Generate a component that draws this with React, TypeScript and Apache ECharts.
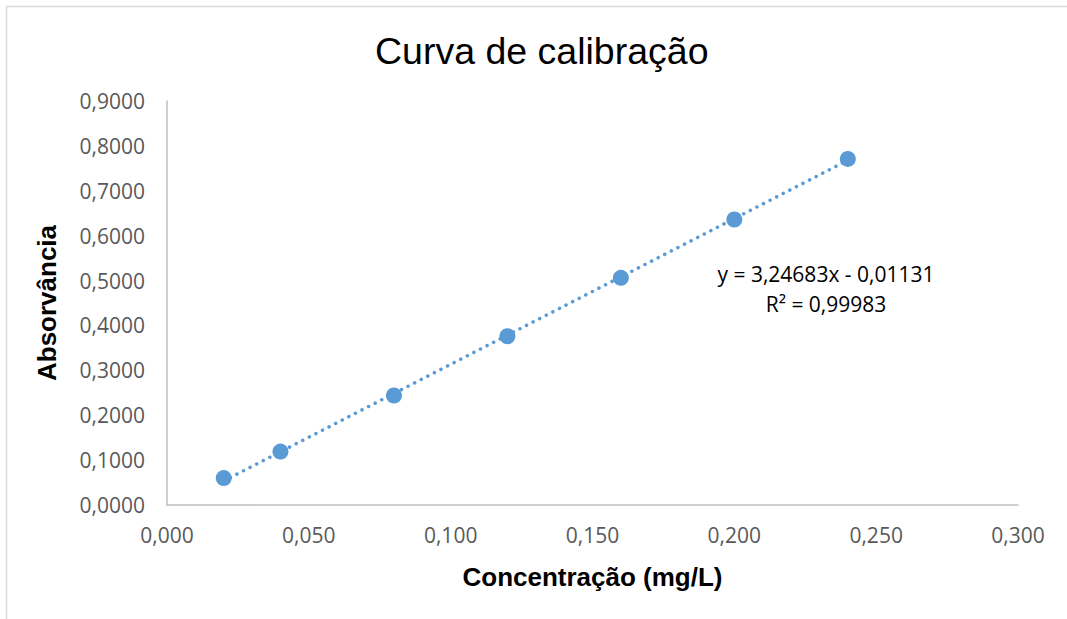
import React, { useEffect, useRef } from "react";
import * as echarts from "echarts";

const concentrations = [0.02, 0.04, 0.08, 0.12, 0.16, 0.2, 0.24];
const absorbances = [0.06, 0.119, 0.244, 0.376, 0.506, 0.636, 0.771];
const trendX = [0.02, 0.24];
const trendY = [0.0536, 0.7679];
const equationText = "y = 3,24683x - 0,01131";
const r2Text = "R² = 0,99983";

const BLUE = "#5b9bd5";
const LABEL_FONT = "'Open Sans', 'Noto Sans', sans-serif";

export default function App() {
  const ref = useRef<HTMLDivElement>(null);
  useEffect(() => {
    if (!ref.current) return;
    const chart = echarts.init(ref.current, undefined, { renderer: "svg" });
    chart.setOption({
      animation: false,
      backgroundColor: "#ffffff",
      title: {
        text: "Curva de calibração",
        left: 370,
        top: 27,
        textStyle: {
          fontFamily: "'Liberation Sans', Arial, sans-serif",
          fontSize: 37.5,
          fontWeight: "normal",
          color: "#000000",
        },
      },
      grid: { left: 167, right: 49, top: 101, bottom: 114 },
      xAxis: {
        type: "value",
        min: 0,
        max: 0.3,
        interval: 0.05,
        name: "Concentração (mg/L)",
        nameLocation: "middle",
        nameGap: 59,
        nameTextStyle: {
          fontFamily: "'Liberation Sans', Arial, sans-serif",
          fontSize: 26,
          fontWeight: "bold",
          color: "#000000",
        },
        axisLine: { show: true, lineStyle: { color: "#bfbfbf", width: 1.5 } },
        axisTick: { show: false },
        splitLine: { show: false },
        axisLabel: {
          margin: 19,
          fontFamily: LABEL_FONT,
          fontSize: 21,
          color: "#595959",
          formatter: (v: number) => v.toFixed(3).replace(".", ","),
        },
      },
      yAxis: {
        type: "value",
        min: 0,
        max: 0.9,
        interval: 0.1,
        name: "Absorvância",
        nameLocation: "middle",
        nameGap: 107,
        nameTextStyle: {
          fontFamily: "'Liberation Sans', Arial, sans-serif",
          fontSize: 26,
          fontWeight: "bold",
          color: "#000000",
        },
        axisLine: { show: true, lineStyle: { color: "#bfbfbf", width: 1.5 } },
        axisTick: { show: false },
        splitLine: { show: false },
        axisLabel: {
          margin: 22,
          fontFamily: LABEL_FONT,
          fontSize: 21,
          color: "#595959",
          formatter: (v: number) => v.toFixed(4).replace(".", ","),
        },
      },
      series: [
        {
          type: "line",
          data: trendX.map((x, i) => [x, trendY[i]]),
          showSymbol: false,
          symbol: "none",
          lineStyle: { color: BLUE, width: 3.5, type: [0.1, 7.3], cap: "round" },
          silent: true,
          z: 1,
        },
        {
          type: "scatter",
          data: concentrations.map((x, i) => [x, absorbances[i]]),
          symbol: "circle",
          symbolSize: 16,
          itemStyle: { color: BLUE, opacity: 1 },
          z: 2,
        },
      ],
      graphic: [
        {
          type: "rect",
          shape: { x: 6.5, y: 6.5, width: 1200, height: 800 },
          style: { fill: "none", stroke: "#d9d9d9", lineWidth: 1.5 },
          silent: true,
          z: -10,
        },
        {
          type: "text",
          x: 826,
          y: 274,
          style: {
            text: equationText,
            fontFamily: LABEL_FONT,
            fontSize: 21,
            fill: "#000000",
            align: "center",
            verticalAlign: "middle",
          },
        },
        {
          type: "text",
          x: 826,
          y: 304,
          style: {
            text: r2Text,
            fontFamily: LABEL_FONT,
            fontSize: 21,
            fill: "#000000",
            align: "center",
            verticalAlign: "middle",
          },
        },
      ],
    });
    return () => chart.dispose();
  }, []);
  return (
    <div
      ref={ref}
      style={{ position: "absolute", left: 0, top: 0, width: 1067, height: 619 }}
    />
  );
}
